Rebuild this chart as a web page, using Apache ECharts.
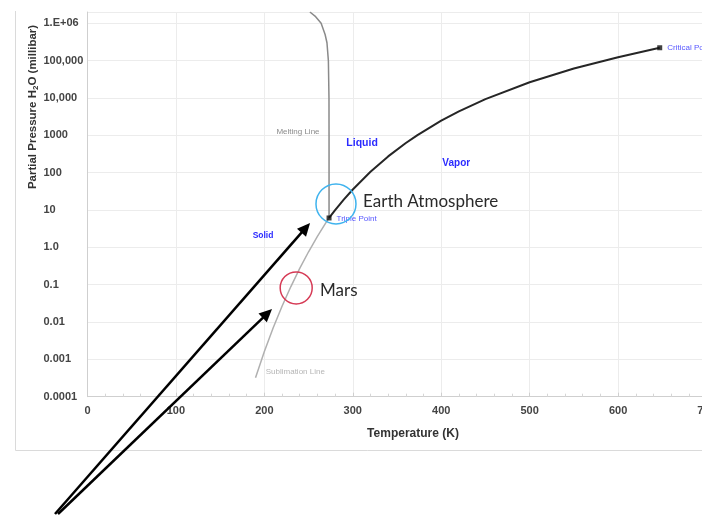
<!DOCTYPE html>
<html>
<head>
<meta charset="utf-8">
<title>Phase diagram of water</title>
<script src="https://cdn.jsdelivr.net/npm/echarts@6/dist/echarts.min.js"></script>
<style>
  html, body { margin: 0; padding: 0; background: #fff; overflow: hidden; }
  #chart { width: 720px; height: 520px; }
</style>
</head>
<body>
<div id="chart"></div>
<script>
// Phase diagram of water: temperature (K) against partial pressure of H2O (millibar)

// Axis ticks
const tempTicks = [0, 100, 200, 300, 400, 500, 600, 700];
const pressureTickLabels = ['0.0001', '0.001', '0.01', '0.1', '1.0', '10', '100', '1000', '10,000', '100,000', '1.E+06'];

// Sublimation curve (ice <-> vapour)
const sublimationT = [190, 200, 210, 220, 230, 240, 250, 260, 270, 273.16];
const sublimationP = [0.00032, 0.00162, 0.0070, 0.0265, 0.089, 0.273, 0.76, 1.96, 4.70, 6.11];

// Vaporisation curve (liquid <-> vapour), triple point to critical point
const vaporT = [273.16, 280, 290, 300, 320, 340, 360, 373.15, 400, 420, 450, 500, 550, 600, 647.1];
const vaporP = [6.11, 9.9, 19.2, 35.4, 105.4, 271.9, 621, 1013, 2457, 4370, 9320, 26390, 61200, 123400, 220640];

// Melting curve (ice <-> liquid)
const meltingT = [273.16, 273.15, 273.15, 273.08, 272.4, 270.8, 268.7, 264.2, 258.0, 251.5];
const meltingP = [6.11, 100, 1000, 10000, 100000, 300000, 500000, 1000000, 1500000, 2000000];

// Special points
const triplePoint = [273.16, 6.11];
const criticalPoint = [647.1, 220640];

// Annotated places (temperature K, pressure mbar)
const earthSpot = [281, 14.5];
const marsSpot = [236, 0.082];

const zip = (xs, ys) => xs.map((x, i) => [x, ys[i]]);

const BLUE = '#2b2bff';
const FONT = '"Liberation Sans", Arial, sans-serif';
const HAND = 'Lato, "Open Sans", sans-serif';

const chart = echarts.init(document.getElementById('chart'), null, { renderer: 'canvas' });

chart.setOption({
  animation: false,
  backgroundColor: '#fff',
  grid: { left: 87.5, top: 12, width: 619, height: 384.7, containLabel: false },
  xAxis: {
    type: 'value',
    min: tempTicks[0],
    max: tempTicks[tempTicks.length - 1],
    interval: 100,
    axisLine: { show: true, lineStyle: { color: '#cfcfcf', width: 1 } },
    axisTick: { show: true, inside: true, length: 4, lineStyle: { color: '#cfcfcf' } },
    minorTick: { show: true, splitNumber: 5, length: 3, lineStyle: { color: '#d6d6d6' } },
    splitLine: { show: true, lineStyle: { color: '#ececec', width: 1 } },
    axisLabel: { color: '#444', fontSize: 11, fontWeight: 'bold', fontFamily: FONT, margin: 9 }
  },
  yAxis: {
    type: 'log',
    logBase: 10,
    min: 0.0001,
    max: 2000000,
    interval: 1,
    axisLine: { show: true, lineStyle: { color: '#cfcfcf', width: 1 } },
    axisTick: { show: false },
    splitLine: { show: true, lineStyle: { color: '#ececec', width: 1 } },
    axisLabel: {
      color: '#444', fontSize: 11, fontWeight: 'bold', fontFamily: FONT,
      align: 'left', margin: 44,
      formatter: v => {
        const e = Math.log10(v);
        return Math.abs(e - Math.round(e)) < 1e-6 ? (pressureTickLabels[Math.round(e) + 4] || '') : '';
      }
    }
  },
  series: [
    {
      name: 'Sublimation Line', type: 'line', data: zip(sublimationT, sublimationP),
      symbol: 'none', lineStyle: { color: '#b0b0b0', width: 1.5 }, z: 2
    },
    {
      name: 'Melting Line', type: 'line', data: zip(meltingT, meltingP),
      symbol: 'none', lineStyle: { color: '#8a8a8a', width: 1.5 }, z: 2
    },
    {
      name: 'Vaporization Line', type: 'line', data: zip(vaporT, vaporP),
      symbol: 'none', lineStyle: { color: '#262626', width: 2 }, z: 3
    },
    {
      name: 'Points', type: 'scatter', symbol: 'rect', symbolSize: 5,
      itemStyle: { color: '#111' }, z: 4,
      data: [
        { value: triplePoint, label: { show: true, formatter: 'Triple Point', position: 'right', distance: 5, offset: [0, 1] } },
        { value: criticalPoint, label: { show: true, formatter: 'Critical Point', position: 'right', distance: 5 } }
      ],
      label: { color: BLUE, fontSize: 8, fontFamily: FONT }
    }
  ]
});

// Annotations placed in data coordinates
const px = p => chart.convertToPixel({ gridIndex: 0 }, p);

function regionText(text, at, size, color, weight, family, align) {
  const p = px(at);
  return {
    type: 'text', x: p[0], y: p[1], z: 10,
    style: {
      text, fontSize: size, fontWeight: weight || 'normal', fontFamily: family || FONT,
      fill: color, align: align || 'center', verticalAlign: 'middle'
    }
  };
}

function arrow(tail, headData) {
  const h = px(headData);
  const dx = h[0] - tail[0], dy = h[1] - tail[1];
  const len = Math.hypot(dx, dy), ux = dx / len, uy = dy / len;
  const hl = 13, hw = 6;
  const bx = h[0] - ux * hl, by = h[1] - uy * hl;
  return [
    { type: 'line', z: 20, shape: { x1: tail[0], y1: tail[1], x2: bx + ux * 2, y2: by + uy * 2 },
      style: { stroke: '#000', lineWidth: 2.5 } },
    { type: 'polygon', z: 20,
      shape: { points: [[h[0], h[1]], [bx - uy * hw, by + ux * hw], [bx + uy * hw, by - ux * hw]] },
      style: { fill: '#000' } }
  ];
}

function circle(centerData, r, color) {
  const c = px(centerData);
  return { type: 'circle', z: 15, shape: { cx: c[0], cy: c[1], r },
    style: { fill: 'none', stroke: color, lineWidth: 1.5 } };
}

const graphics = [
  // chart frame
  { type: 'polyline', z: 0, shape: { points: [[15.5, 11], [15.5, 450.5], [720, 450.5]] },
    style: { stroke: '#dadada', lineWidth: 1, fill: 'none' } },
  // axis titles
  { type: 'text', x: 413, y: 434, z: 10,
    style: { text: 'Temperature (K)', fontSize: 12, fontWeight: 'bold', fontFamily: FONT, fill: '#333',
      align: 'center', verticalAlign: 'middle' } },
  { type: 'text', x: 33, y: 107, rotation: Math.PI / 2, z: 10,
    style: {
      text: '{t|Partial Pressure H}{s|2}{t|O (millibar)}', align: 'center', verticalAlign: 'middle',
      rich: {
        t: { fontSize: 11.5, fontWeight: 'bold', fontFamily: FONT, fill: '#333' },
        s: { fontSize: 8, fontWeight: 'bold', fontFamily: FONT, fill: '#333', padding: [6, 0, 0, 0] }
      }
    } },
  // region and curve labels
  regionText('Liquid', [310.5, 624], 10.5, BLUE, 'bold'),
  regionText('Vapor', [417, 182], 10, BLUE, 'bold'),
  regionText('Solid', [198.5, 2.1], 8.5, BLUE, 'bold'),
  regionText('Melting Line', [238, 1230], 8, '#8a8a8a'),
  regionText('Sublimation Line', [235, 0.00046], 8, '#b5b5b5'),
  // highlighted places
  circle(earthSpot, 20, '#3fb3ee'),
  circle(marsSpot, 16, '#d63a55'),
  regionText('Earth Atmosphere', [311.6, 16.6], 17, '#2a2a2a', 'normal', HAND, 'left'),
  regionText('Mars', [263, 0.068], 17, '#2a2a2a', 'normal', HAND, 'left')
].concat(
  arrow([55, 514], [251.7, 4.5]),
  arrow([58, 514], [208.7, 0.0224])
);

chart.setOption({ graphic: graphics });
</script>
</body>
</html>
